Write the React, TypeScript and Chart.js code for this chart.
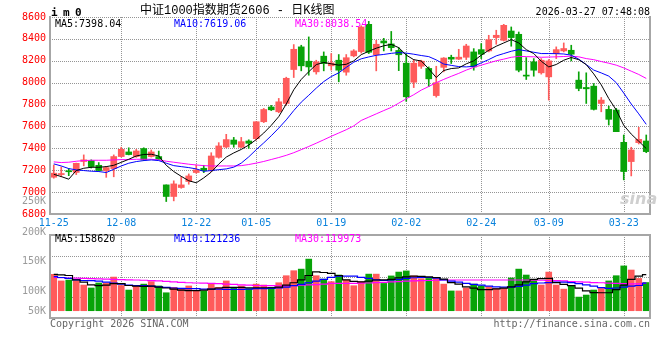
import React, { useEffect, useRef } from 'react';
import { Chart, registerables } from 'chart.js';

Chart.register(...registerables);

// ---------------- DATA ----------------
const dates = [
  '11-25', '11-26', '11-27', '11-28',
  '12-01', '12-02', '12-03', '12-04', '12-05',
  '12-08', '12-09', '12-10', '12-11', '12-12',
  '12-15', '12-16', '12-17', '12-18', '12-19',
  '12-22', '12-23', '12-24', '12-25', '12-26',
  '12-29', '12-30', '12-31',
  '01-05', '01-06', '01-07', '01-08', '01-09',
  '01-12', '01-13', '01-14', '01-15', '01-16',
  '01-19', '01-20', '01-21', '01-22', '01-23',
  '01-26', '01-27', '01-28', '01-29', '01-30',
  '02-02', '02-03', '02-04', '02-05', '02-06',
  '02-09', '02-10', '02-11', '02-12', '02-13',
  '02-24', '02-25', '02-26', '02-27',
  '03-02', '03-03', '03-04', '03-05', '03-06',
  '03-09', '03-10', '03-11', '03-12', '03-13',
  '03-16', '03-17', '03-18', '03-19', '03-20',
  '03-23', '03-24', '03-25', '03-26',
];

const tickDates = ['11-25', '12-08', '12-22', '01-05', '01-19', '02-02', '02-24', '03-09', '03-23'];
const priceTicks = { min: 6800, max: 8600, step: 200 };

const opens = [
  7136, 7160, 7192, 7180, 7280, 7288, 7245, 7197, 7215, 7325,
  7367, 7325, 7398, 7325, 7325, 7066, 6960, 7042, 7097, 7179,
  7218, 7203, 7318, 7412, 7476, 7410, 7467, 7488, 7643, 7778,
  7734, 7810, 8120, 8327, 8196, 8099, 8242, 8154, 8205, 8096,
  8245, 8284, 8533, 8256, 8381, 8354, 8294, 8178, 8004, 8150,
  8130, 7882, 8140, 8232, 8215, 8232, 8281, 8302, 8290, 8412,
  8387, 8472, 8442, 8069, 8190, 8090, 8053, 8266, 8290, 8296,
  8023, 7956, 7968, 7810, 7756, 7750, 7455, 7279, 7452, 7467,
];
const highs = [
  7248, 7230, 7215, 7265, 7340, 7295, 7270, 7235, 7340, 7410,
  7405, 7390, 7405, 7385, 7375, 7066, 7103, 7142, 7166, 7248,
  7245, 7360, 7452, 7528, 7500, 7500, 7478, 7643, 7765, 7792,
  7856, 8050, 8348, 8342, 8418, 8205, 8281, 8266, 8257, 8257,
  8302, 8520, 8560, 8387, 8405, 8468, 8320, 8266, 8211, 8205,
  8144, 8150, 8229, 8251, 8305, 8351, 8311, 8357, 8433, 8479,
  8533, 8509, 8463, 8229, 8220, 8220, 8211, 8327, 8363, 8342,
  8099, 8090, 7992, 7865, 7786, 7765, 7522, 7410, 7592, 7522,
];
const lows = [
  7127, 7140, 7150, 7160, 7240, 7220, 7190, 7135, 7140, 7320,
  7340, 7318, 7288, 7320, 7298, 6914, 6920, 7035, 7072, 7172,
  7178, 7188, 7310, 7405, 7410, 7405, 7400, 7475, 7635, 7745,
  7725, 7795, 8047, 8108, 8068, 8078, 8108, 8114, 8008, 8068,
  8236, 8270, 8266, 8108, 8290, 8290, 8110, 7830, 7955, 8130,
  7965, 7868, 8099, 8175, 8211, 8211, 8114, 8220, 8281, 8351,
  8381, 8333, 8099, 8029, 8059, 8078, 7841, 8220, 8281, 8199,
  7926, 7810, 7750, 7734, 7613, 7552, 7112, 7148, 7440, 7360,
];
const closes = [
  7173, 7170, 7186, 7263, 7295, 7233, 7197, 7224, 7325, 7391,
  7343, 7376, 7294, 7367, 7300, 6960, 7075, 7066, 7148, 7203,
  7197, 7330, 7422, 7480, 7437, 7461, 7446, 7643, 7755, 7752,
  7825, 8040, 8305, 8154, 8144, 8190, 8175, 8181, 8114, 8228,
  8290, 8509, 8278, 8351, 8363, 8320, 8255, 7871, 8178, 8196,
  8035, 8000, 8225, 8215, 8233, 8335, 8144, 8260, 8393, 8433,
  8524, 8412, 8114, 8060, 8114, 8205, 8199, 8302, 8312, 8260,
  7947, 7944, 7756, 7841, 7665, 7552, 7188, 7385, 7482, 7370,
];

const ma5 = [
  7163, 7142, 7118, 7197, 7218, 7227, 7227, 7233, 7245, 7272,
  7300, 7330, 7344, 7346, 7330, 7245, 7188, 7144, 7104, 7085,
  7130, 7183, 7256, 7320, 7358, 7390, 7430, 7480, 7540, 7610,
  7690, 7805, 7935, 8030, 8100, 8165, 8185, 8172, 8160, 8168,
  8199, 8256, 8287, 8315, 8337, 8350, 8320, 8252, 8210, 8198,
  8126, 8047, 8111, 8129, 8135, 8172, 8199, 8251, 8296, 8333,
  8363, 8393, 8363, 8302, 8266, 8196, 8144, 8166, 8205, 8230,
  8210, 8165, 8080, 7980, 7855, 7750, 7610, 7530, 7465, 7398.04,
];
const ma10 = [
  7258, 7239, 7215, 7203, 7197, 7191, 7188, 7179, 7209, 7239,
  7264, 7279, 7288, 7294, 7288, 7264, 7242, 7233, 7224, 7212,
  7190, 7197, 7205, 7212, 7228, 7265, 7322, 7388, 7450, 7515,
  7585, 7660, 7745, 7822, 7885, 7950, 8010, 8056, 8090, 8140,
  8187, 8218, 8235, 8250, 8258, 8268, 8275, 8270, 8260, 8248,
  8238, 8208, 8170, 8158, 8147, 8144, 8150, 8181, 8211, 8245,
  8266, 8287, 8302, 8290, 8278, 8266, 8266, 8265, 8262, 8251,
  8215, 8165, 8115, 8089, 8060, 8000, 7905, 7805, 7715, 7619.06,
];
const ma30 = [
  7276, 7270, 7273, 7282, 7288, 7291, 7291, 7291, 7294, 7297,
  7297, 7300, 7300, 7300, 7294, 7282, 7273, 7264, 7255, 7248,
  7242, 7239, 7239, 7239, 7239, 7242, 7252, 7265, 7280, 7298,
  7316, 7336, 7360, 7388, 7417, 7447, 7478, 7510, 7540, 7570,
  7605, 7655, 7685, 7715, 7745, 7774, 7813, 7853, 7890, 7932,
  7965, 8000, 8030, 8058, 8085, 8115, 8140, 8160, 8180, 8200,
  8215, 8232, 8240, 8238, 8236, 8232, 8234, 8236, 8239, 8242,
  8236, 8220, 8210, 8193, 8178, 8160, 8135, 8105, 8075, 8038.54,
];

// volume in thousands of lots
const volumes = [
  160, 131, 135, 131, 113, 100, 122, 122, 148, 111,
  91, 111, 117, 128, 109, 79, 103, 94, 109, 88,
  87, 120, 103, 131, 103, 109, 98, 117, 113, 103,
  123, 154, 176, 183, 227, 154, 139, 128, 157, 135,
  110, 128, 161, 161, 120, 153, 170, 175, 153, 141,
  142, 145, 117, 87, 87, 100, 117, 109, 106, 98,
  98, 144, 183, 157, 135, 113, 170, 113, 95, 109,
  60, 69, 91, 98, 131, 154, 197, 179, 142, 124,
];
const volMa5 = [
  160, 158, 155, 136, 126, 114, 110, 113, 119, 119,
  111, 108, 107, 108, 104, 100, 95, 91, 88, 88,
  91, 95, 100, 103, 103, 103, 101, 101, 101, 101,
  104, 113, 123, 136, 155, 171, 168, 164, 155, 136,
  129, 127, 130, 135, 136, 138, 145, 149, 152, 151,
  149, 146, 139, 124, 117, 105, 99, 93, 93, 96,
  99, 105, 114, 127, 138, 141, 142, 124, 116, 110,
  99, 87, 80, 79, 79, 93, 113, 138, 152, 158.62,
];
const volMa10 = [
  150, 146, 142, 136, 133, 132, 130, 126, 121, 117,
  113, 111, 110, 108, 105, 103, 100, 98, 97, 97,
  95, 95, 95, 94, 94, 94, 95, 97, 97, 98,
  100, 104, 110, 116, 123, 130, 138, 147, 152, 152,
  152, 147, 142, 136, 133, 135, 138, 142, 145, 146,
  146, 143, 136, 130, 126, 120, 116, 113, 108, 105,
  104, 104, 107, 113, 119, 122, 124, 126, 126, 124,
  119, 114, 108, 102, 98, 100, 104, 108, 111, 121.236,
];
const volMa30 = [
  146, 145, 144, 143, 142, 141, 140, 139, 138, 137,
  136, 135, 134, 132, 131, 129, 127, 125, 123, 122,
  121, 120, 119, 117, 116, 114, 113, 111, 110, 110,
  109, 109, 110, 112, 114, 115, 117, 120, 120, 120,
  120, 121, 122, 124, 125, 127, 128, 130, 131, 132,
  133, 134, 135, 135, 135, 135, 135, 135, 135, 135,
  135, 135, 135, 135, 134, 134, 133, 132, 131, 128,
  127, 126, 124, 123, 121, 120, 119, 118, 118, 119.973,
];

const mainLegend = ['MA5:7398.04', 'MA10:7619.06', 'MA30:8038.54'];
const volLegend = ['MA5:158620', 'MA10:121236', 'MA30:119973'];
const volAxisLabels = ['250K', '200K', '150K', '100K', '50K'];
const volRange = { min: -32, max: 333 };

// ---------------- STYLE / LAYOUT ----------------
const UP = '#ff5b5b';
const DOWN = '#08a308';
const GRID = '#959595';
const FRAME = '#a6a6a6';
const MONO = '"DejaVu Sans Mono", monospace';
const LEGEND_COLORS = ['#000000', '#0000ff', '#ff00ff'];
const LEGEND_X = [55, 174, 295];
const VOL_LABEL_Y = [201, 231.5, 260.5, 290.5, 310.5];

const candleColors = closes.map((c, i) => (c >= opens[i] ? UP : DOWN));

function drawDots(chart: any) {
  const { ctx, chartArea: a, scales } = chart;
  const xs = scales.x;
  const ys = scales.y;
  const l = Math.round(a.left);
  const r = Math.round(a.right);
  const t = Math.round(a.top);
  const b = Math.round(a.bottom);
  ctx.save();
  ctx.fillStyle = GRID;
  xs.ticks.forEach((tk: any, i: number) => {
    if (tk.value === 0) return;
    const x = Math.round(xs.getPixelForTick(i));
    for (let y = t; y <= b; y += 2) ctx.fillRect(x, y, 1, 1);
  });
  ys.ticks.forEach((tk: any) => {
    const y = Math.round(ys.getPixelForValue(tk.value));
    for (let x = l; x <= r; x += 2) ctx.fillRect(x, y, 1, 1);
  });
  ctx.restore();
}

function drawFrame(chart: any, sides: string[]) {
  const { ctx, chartArea: a } = chart;
  const l = Math.round(a.left);
  const r = Math.round(a.right);
  const t = Math.round(a.top);
  const b = Math.round(a.bottom);
  ctx.save();
  ctx.strokeStyle = FRAME;
  ctx.lineWidth = 2;
  ctx.beginPath();
  if (sides.includes('left')) { ctx.moveTo(l, t - 1); ctx.lineTo(l, b + 1); }
  if (sides.includes('right')) { ctx.moveTo(r, t - 1); ctx.lineTo(r, b + 1); }
  if (sides.includes('top')) { ctx.moveTo(l, t); ctx.lineTo(r, t); }
  if (sides.includes('bottom')) { ctx.moveTo(l, b); ctx.lineTo(r, b); }
  ctx.stroke();
  ctx.restore();
}

function makeDecor(sides: string[]) {
  return {
    id: 'decor',
    beforeDatasetsDraw(chart: any) {
      drawDots(chart);
    },
    afterDraw(chart: any) {
      drawFrame(chart, sides);
    },
  };
}

const keepDateTicks = (scale: any) => {
  scale.ticks = scale.ticks.filter((t: any) => tickDates.includes(dates[t.value]));
};

function lineDs(label: string, data: number[], color: string, stepped: any = false) {
  return {
    type: 'line' as const,
    label,
    data,
    borderColor: color,
    backgroundColor: color,
    borderWidth: stepped ? 1.2 : 1,
    pointRadius: 0,
    tension: 0,
    stepped,
    order: 0,
  };
}

function Txt(props: {
  x: number; y: number; text: string; color?: string; size?: number; font?: string;
  bold?: boolean; italic?: boolean; right?: boolean; spacing?: number;
}) {
  const { x, y, text, color = '#000', size = 10, font = MONO, bold = false, italic = false, right = false, spacing = 0 } = props;
  return (
    <div
      style={{
        position: 'absolute',
        left: x,
        top: y,
        transform: right ? 'translate(-100%, -50%)' : 'translateY(-50%)',
        whiteSpace: 'pre',
        color,
        fontSize: size,
        fontFamily: font,
        fontWeight: bold ? 'bold' : 'normal',
        fontStyle: italic ? 'italic' : 'normal',
        letterSpacing: spacing,
        lineHeight: 1,
      }}
    >
      {text}
    </div>
  );
}

export default function App() {
  const mainRef = useRef<HTMLCanvasElement>(null);
  const volRef = useRef<HTMLCanvasElement>(null);

  useEffect(() => {
    const main = new Chart(mainRef.current as HTMLCanvasElement, {
      type: 'bar',
      data: {
        labels: dates,
        datasets: [
          lineDs('MA5', ma5, '#000000'),
          lineDs('MA10', ma10, '#0000ff'),
          lineDs('MA30', ma30, '#ff00ff'),
          {
            type: 'bar',
            label: 'body',
            data: opens.map((o, i) => [o, closes[i]]),
            backgroundColor: candleColors,
            borderWidth: 0,
            barThickness: 6,
            minBarLength: 1,
            grouped: false,
            order: 1,
          } as any,
          {
            type: 'bar',
            label: 'wick',
            data: lows.map((l, i) => [l, highs[i]]),
            backgroundColor: candleColors,
            borderWidth: 0,
            barThickness: 1,
            grouped: false,
            order: 2,
          } as any,
        ],
      },
      options: {
        animation: false,
        responsive: false,
        maintainAspectRatio: false,
        layout: { padding: { left: 0, right: 10, top: 17, bottom: 0 } },
        plugins: { legend: { display: false }, tooltip: { enabled: false } },
        scales: {
          x: {
            type: 'category',
            offset: true,
            afterBuildTicks: keepDateTicks,
            afterFit: (s: any) => { s.height = 18; },
            grid: { display: false, drawTicks: false },
            border: { display: false },
            ticks: {
              autoSkip: false,
              maxRotation: 0,
              padding: 3,
              color: '#0a82dc',
              font: { family: MONO, size: 10 },
            },
          },
          y: {
            min: priceTicks.min,
            max: priceTicks.max,
            afterFit: (s: any) => { s.width = 50; },
            grid: { display: false, drawTicks: false },
            border: { display: false },
            ticks: {
              stepSize: priceTicks.step,
              padding: 4,
              color: '#ff0000',
              font: { family: MONO, size: 10 },
              callback: (v: any) => String(v),
            },
          },
        },
      } as any,
      plugins: [makeDecor(['left', 'right', 'bottom'])],
    });

    const vol = new Chart(volRef.current as HTMLCanvasElement, {
      type: 'bar',
      data: {
        labels: dates,
        datasets: [
          lineDs('MA5', volMa5, '#000000', 'middle'),
          lineDs('MA10', volMa10, '#0000ff', 'middle'),
          lineDs('MA30', volMa30, '#ff00ff', 'middle'),
          {
            type: 'bar',
            label: 'VOL',
            data: volumes,
            backgroundColor: candleColors,
            borderWidth: 0,
            barThickness: 6,
            grouped: false,
            order: 1,
          } as any,
        ],
      },
      options: {
        animation: false,
        responsive: false,
        maintainAspectRatio: false,
        layout: { padding: { left: 0, right: 10, top: 3, bottom: 42 } },
        plugins: { legend: { display: false }, tooltip: { enabled: false } },
        scales: {
          x: {
            type: 'category',
            offset: true,
            afterBuildTicks: keepDateTicks,
            afterFit: (s: any) => { s.height = 0; },
            grid: { display: false, drawTicks: false },
            border: { display: false },
            ticks: { display: false, autoSkip: false },
          },
          y: {
            min: volRange.min,
            max: volRange.max,
            afterFit: (s: any) => { s.width = 50; },
            afterBuildTicks: (s: any) => {
              s.ticks = [1, 2, 3].map((q) => ({ value: s.min + ((s.max - s.min) * q) / 4 }));
            },
            grid: { display: false, drawTicks: false },
            border: { display: false },
            ticks: { display: false },
          },
        },
      } as any,
      plugins: [makeDecor(['left', 'right', 'top', 'bottom'])],
    });

    return () => {
      main.destroy();
      vol.destroy();
    };
  }, []);

  return (
    <div
      style={{
        position: 'fixed',
        left: 0,
        top: 0,
        width: 660,
        height: 360,
        background: '#ffffff',
        overflow: 'hidden',
      }}
    >
      <canvas ref={mainRef} width={660} height={232} style={{ position: 'absolute', left: 0, top: 0 }} />
      <canvas ref={volRef} width={660} height={128} style={{ position: 'absolute', left: 0, top: 232 }} />

      <Txt x={51} y={11.5} text="i m 0" bold size={11} spacing={-0.6} />
      <Txt x={140} y={10.5} text="中证1000指数期货2606 - 日K线图" size={12} font={'"Liberation Mono", "Noto Sans CJK SC", monospace'} />
      <Txt x={650} y={11.5} text="2026-03-27 07:48:08" right />

      {mainLegend.map((t, i) => (
        <Txt key={'m' + i} x={LEGEND_X[i]} y={24} text={t} color={LEGEND_COLORS[i]} />
      ))}
      {volLegend.map((t, i) => (
        <Txt key={'v' + i} x={LEGEND_X[i]} y={238.5} text={t} color={LEGEND_COLORS[i]} />
      ))}
      {volAxisLabels.map((t, i) => (
        <Txt key={'a' + i} x={46} y={VOL_LABEL_Y[i]} text={t} color="#9a9a9a" right />
      ))}

      <Txt x={620} y={199} text="sina" color="#cfcfcf" size={16} bold italic font={'"DejaVu Sans", sans-serif'} />
      <Txt x={50} y={323.5} text="Copyright 2026 SINA.COM" color="#666666" />
      <Txt x={650} y={324} text="http://finance.sina.com.cn" color="#666666" right />
    </div>
  );
}
